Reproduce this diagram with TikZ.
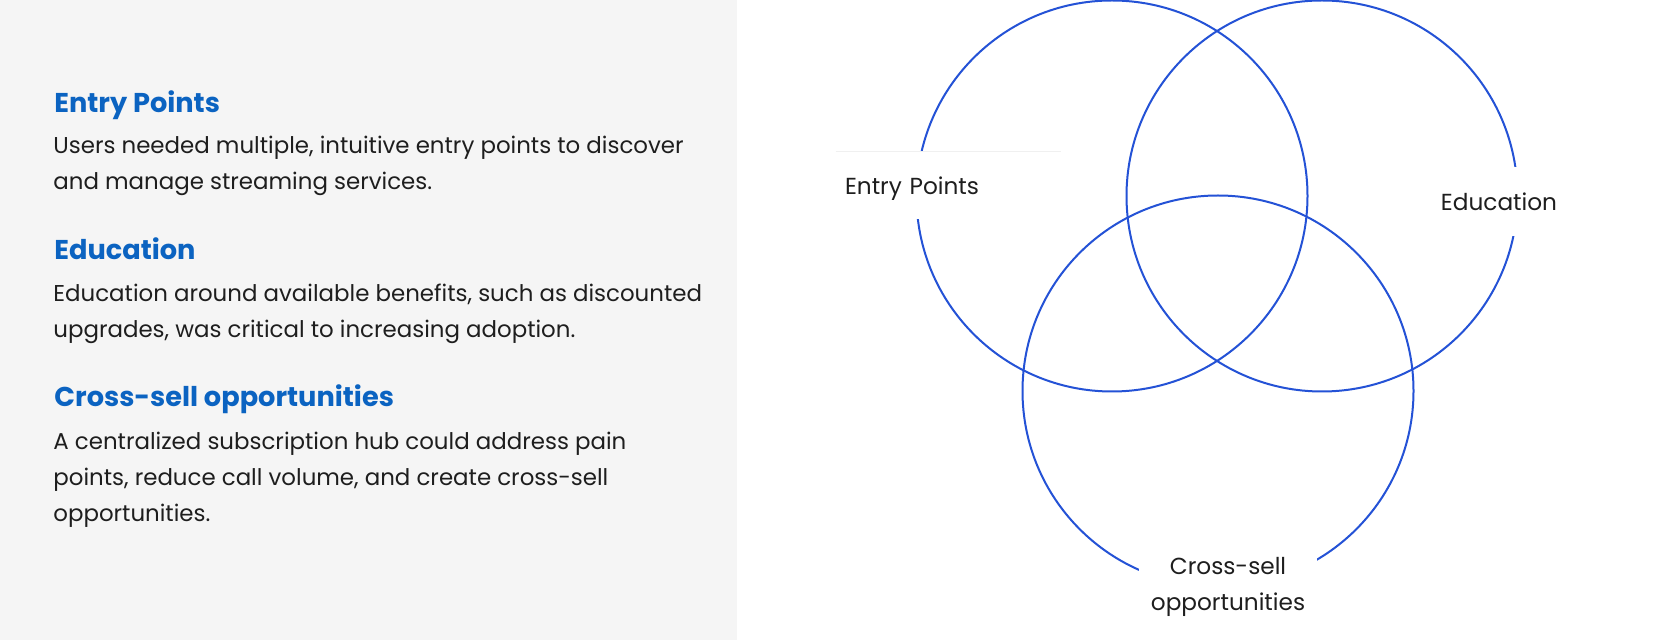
\documentclass[tikz,border=0pt]{standalone}
\usepackage{fontspec}
\setmainfont{Poppins}
\usetikzlibrary{positioning}
\definecolor{ringblue}{RGB}{36,82,214}
\definecolor{headblue}{RGB}{11,99,193}
\definecolor{bodyink}{RGB}{30,30,30}
\definecolor{panelgray}{RGB}{245,245,245}

\begin{document}
\begin{tikzpicture}[x=0.5pt, y=-0.5pt,
    ring/.style={draw=ringblue, line width=1pt, circle, minimum size=195.5pt, inner sep=0},
    heading/.style={anchor=base west, inner sep=0, text=headblue, font=\fontsize{13.6}{17}\selectfont\bfseries},
    body/.style={anchor=base west, inner sep=0, align=left, text=bodyink, font=\fontsize{11.45}{18}\selectfont},
    tag/.style={fill=white, text=bodyink, font=\fontsize{11.6}{18}\selectfont, align=center}
]
\useasboundingbox (0,0) rectangle (1675,640);

% canvas and side panel
\fill[white] (0,0) rectangle (1675,640);
\fill[panelgray] (0,0) rectangle (737,640);

% Findings (left panel), body nodes sit on their last line
\node[heading] (entryhead) at (54,113) {Entry Points};
\node[body] (entrytext) at (53,190) {Users needed multiple, intuitive entry points to discover\\and manage streaming services.};
\node[heading] (eduhead) at (54,260) {Education};
\node[body] (edutext) at (53,338) {Education around available benefits, such as discounted\\upgrades, was critical to increasing adoption.};
\node[heading] (crosshead) at (54,407) {Cross-sell opportunities};
\node[body] (crosstext) at (53,522) {A centralized subscription hub could address pain\\points, reduce call volume, and create cross-sell\\opportunities.};

% Venn rings
\node[ring] (entryring) at (1112,196) {};
\node[ring] (eduring) at (1322,196) {};
\node[ring] (crossring) at (1218,391) {};

% Ring labels
\node[tag, text width=103.5pt, inner xsep=4.5pt, minimum height=33.5pt, align=left] (entrytag) at (948.5,185.5) {\raisebox{-1.5pt}[\height][\depth]{Entry Points}};
\draw[gray!12] (entrytag.north west) -- (entrytag.north east);
\node[tag, minimum height=34.5pt] (edutag) at (1499,201.5) {Education};
\node[tag, inner ysep=4pt, minimum width=89pt] (crosstag) at (1228,587) {Cross-sell\\opportunities};

\end{tikzpicture}
\end{document}
